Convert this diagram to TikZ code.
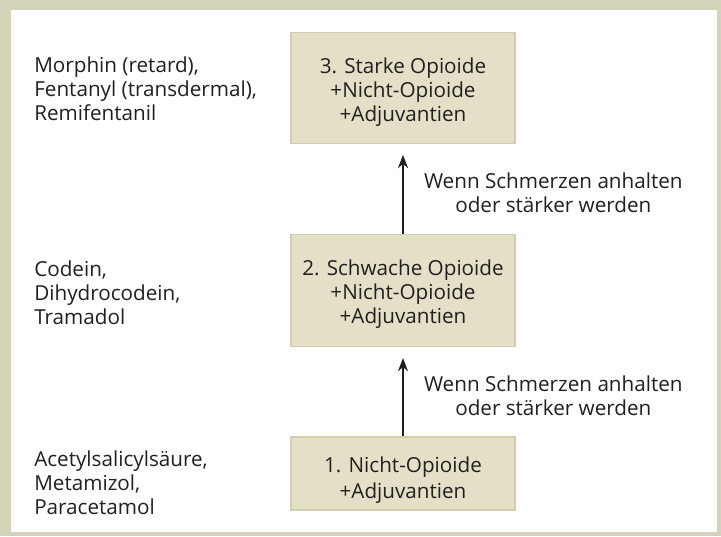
\documentclass[tikz,border=0pt]{standalone}
\usepackage{fontspec}
\setmainfont{Open Sans}
\usetikzlibrary{positioning,arrows.meta}
\definecolor{rahmen}{HTML}{D5D2BA}
\definecolor{stufenfill}{HTML}{E4E0C7}
\definecolor{stufenline}{HTML}{D2CEAD}
\definecolor{ink}{HTML}{231F20}
\newcommand{\oben}{\rule{0pt}{17.5pt}}

\begin{document}
\begin{tikzpicture}[x=0.75pt,y=-0.75pt,
    schrift/.style={text=ink,font=\fontsize{15.5}{18}\selectfont},
    stufe/.style={schrift,draw=stufenline,line width=1.2pt,fill=stufenfill,align=center,
      minimum width=168pt,inner sep=0pt},
    mittel/.style={schrift,anchor=west,align=left,inner sep=0pt},
    hinweis/.style={schrift,align=center,inner sep=0pt},
    pfeil/.style={draw=ink,line width=1.5pt,-{Stealth[length=10pt,width=7.5pt]},shorten >=8pt}]
        % frame
        \fill[rahmen] (0,0) rectangle (721,536);
        \fill[white] (11,10) rectangle (717,532);
        % steps
        \node[stufe,minimum height=83pt] (stufe3) at (403,88) {\oben 3. Starke Opioide\\+Nicht-Opioide\\+Adjuvantien};
        \node[stufe,minimum height=84pt] (stufe2) at (403,290.5) {\oben 2. Schwache Opioide\\+Nicht-Opioide\\+Adjuvantien};
        \node[stufe,minimum height=55pt] (stufe1) at (403,473.5) {\rule{0pt}{21pt}1. Nicht-Opioide\\[1.5pt]+Adjuvantien};
        % drugs
        \node[mittel] (mittel3) at (34,85) {\oben Morphin (retard),\\Fentanyl (transdermal),\\Remifentanil};
        \node[mittel] (mittel2) at (34,289) {\oben Codein,\\Dihydrocodein,\\Tramadol};
        \node[mittel] (mittel1) at (34,479) {\oben Acetylsalicylsäure,\\Metamizol,\\Paracetamol};
        % escalation
        \draw[pfeil] (stufe2) -- node[hinweis,midway,right=15pt] (hinweis2) {\oben Wenn Schmerzen anhalten\\oder stärker werden} (stufe3);
        \draw[pfeil] (stufe1) -- node[hinweis,midway,right=15pt] (hinweis1) {\oben Wenn Schmerzen anhalten\\oder stärker werden} (stufe2);
\end{tikzpicture}
\end{document}
